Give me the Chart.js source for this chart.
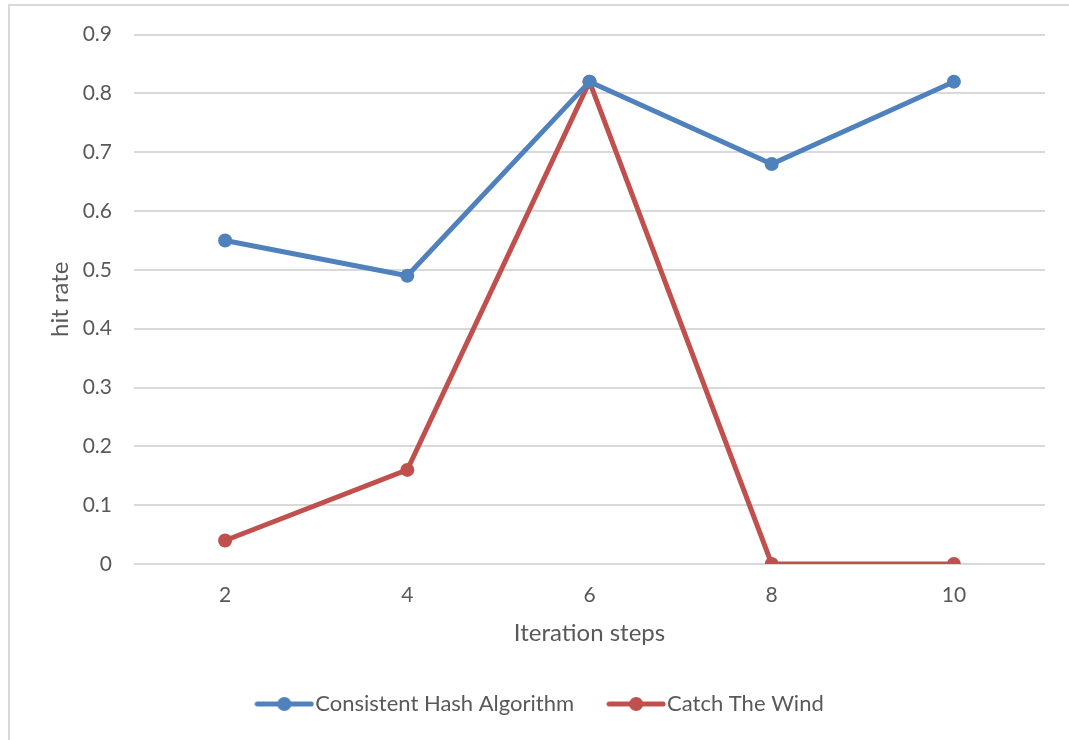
<!DOCTYPE html>
<html>
<head>
<meta charset="utf-8">
<script src="https://cdn.jsdelivr.net/npm/chart.js@4"></script>
<style>
    html, body { margin: 0; padding: 0; background: #fff; }
    #frame {
        position: absolute; left: 8px; top: 4px; width: 1100px; height: 800px;
        border-left: 2px solid #d9d9d9; border-top: 2px solid #d9d9d9;
    }
    #wrap { position: absolute; left: 0; top: 0; width: 1069px; height: 740px; }
</style>
</head>
<body>
<div id="frame"></div>
<div id="wrap"><canvas id="hitRate"></canvas></div>
<script>
const steps = ['2', '4', '6', '8', '10'];
const consistentHash = [0.55, 0.49, 0.82, 0.68, 0.82];
const catchTheWind = [0.04, 0.16, 0.82, 0, 0];
const yTicks = ['0', '0.1', '0.2', '0.3', '0.4', '0.5', '0.6', '0.7', '0.8', '0.9'];

const BLUE = '#4F81BD';
const RED = '#C0504D';
const TEXT = '#595959';
const FONT = 'Lato, "Open Sans", sans-serif';

// small picture of line + dot for the legend
function legendMark(color) {
    const c = document.createElement('canvas');
    c.width = 60;
    c.height = 16;
    const g = c.getContext('2d');
    g.strokeStyle = color;
    g.lineWidth = 5;
    g.lineCap = 'round';
    g.beginPath();
    g.moveTo(3, 8);
    g.lineTo(57, 8);
    g.stroke();
    g.fillStyle = color;
    g.beginPath();
    g.arc(30, 8, 7, 0, Math.PI * 2);
    g.fill();
    return c;
}

new Chart(document.getElementById('hitRate'), {
    type: 'line',
    data: {
        labels: steps,
        datasets: [
            {
                label: 'Consistent Hash Algorithm',
                data: consistentHash,
                borderColor: BLUE,
                backgroundColor: BLUE,
                borderWidth: 5,
                pointRadius: 7,
                pointBorderWidth: 0,
                pointHoverRadius: 7,
                tension: 0,
            },
            {
                label: 'Catch The Wind',
                data: catchTheWind,
                borderColor: RED,
                backgroundColor: RED,
                borderWidth: 5,
                pointRadius: 7,
                pointBorderWidth: 0,
                pointHoverRadius: 7,
                tension: 0,
            },
        ],
    },
    options: {
        responsive: true,
        maintainAspectRatio: false,
        animation: false,
        layout: {
            padding: { left: 43, right: 24, top: 34, bottom: 15 },
        },
        plugins: {
            tooltip: { enabled: false },
            legend: {
                position: 'bottom',
                labels: {
                    color: TEXT,
                    font: { family: FONT, size: 22 },
                    usePointStyle: true,
                    pointStyleWidth: 40,
                    padding: 42,
                    generateLabels: function (chart) {
                        return chart.data.datasets.map((ds, i) => ({
                            text: ds.label,
                            pointStyle: legendMark(ds.borderColor),
                            fillStyle: ds.borderColor,
                            strokeStyle: ds.borderColor,
                            lineWidth: 0,
                            fontColor: TEXT,
                            datasetIndex: i,
                        }));
                    },
                },
            },
        },
        scales: {
            x: {
                offset: true,
                grid: { display: false, drawTicks: false },
                border: { display: false },
                ticks: {
                    color: TEXT,
                    font: { family: FONT, size: 21 },
                    padding: 19,
                },
                title: {
                    display: true,
                    text: 'Iteration steps',
                    color: TEXT,
                    font: { family: FONT, size: 24 },
                    padding: { top: 0, bottom: 3 },
                },
                afterFit: function (scale) {
                    scale.height = 87;
                },
            },
            y: {
                min: 0,
                max: 0.9,
                grid: { color: '#d9d9d9', lineWidth: 2, drawTicks: false },
                border: { display: false },
                ticks: {
                    stepSize: 0.1,
                    color: TEXT,
                    font: { family: FONT, size: 21 },
                    padding: 22,
                    callback: function (value, index) {
                        return yTicks[index];
                    },
                },
                title: {
                    display: true,
                    text: 'hit rate',
                    color: TEXT,
                    font: { family: FONT, size: 24 },
                    padding: { top: 3, bottom: 0 },
                },
                afterFit: function (scale) {
                    scale.width = 91;
                },
            },
        },
    },
});
</script>
</body>
</html>
